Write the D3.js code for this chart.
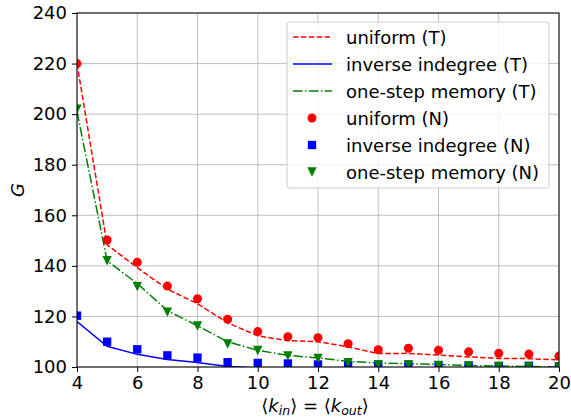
<!DOCTYPE html>
<html>
<head>
<meta charset="utf-8" />
<title>G vs k</title>
<script src="https://d3js.org/d3.v7.min.js"></script>
<style>
  body { margin: 0; background: #fff; }
  svg text { font-family: "DejaVu Sans", sans-serif; }
</style>
</head>
<body>
<svg id="chart"></svg>
<script>
// data
var kValues = [4, 5, 6, 7, 8, 9, 10, 11, 12, 13, 14, 15, 16, 17, 18, 19, 20];

var uniformT   = [220, 148.3, 139.3, 130.8, 125, 117.5, 112.3, 110.4, 110, 108, 105.3, 105.4, 104.7, 104, 103.4, 103.3, 102.8];
var inverseT   = [118, 108.2, 105, 103, 101.8, 100.2, 99.6, 99.2, 98.9, 98.7, 98.5, 98.4, 98.3, 98.2, 98.1, 98.1, 98];
var memoryT    = [201, 142, 133, 122.3, 116.3, 110, 106.6, 104.6, 103.6, 102.2, 101.6, 101.3, 101, 100.6, 100.4, 100.2, 100];

var uniformN   = [220, 150.2, 141.4, 132, 127, 118.9, 114, 112, 111.6, 109.2, 106.8, 107.4, 106.6, 106, 105.4, 105.1, 104.3];
var inverseN   = [120.3, 110, 107, 104.6, 103.7, 101.9, 101.6, 101.4, 101, 100.8, 100.6, 100.6, 100.5, 100.5, 100.4, 100.5, 100.3];
var memoryN    = [202, 142, 131.8, 121.7, 116.2, 109.1, 106.5, 104.4, 103.4, 101.7, 100.9, 100.9, 100.6, 100.4, 100.2, 100.1, 100];

var xTicks = [4, 6, 8, 10, 12, 14, 16, 18, 20];
var yTicks = [100, 120, 140, 160, 180, 200, 220, 240];

var legendLabels = ["uniform (T)", "inverse indegree (T)", "one-step memory (T)",
                    "uniform (N)", "inverse indegree (N)", "one-step memory (N)"];

var width = 571, height = 419;
var margin = {left: 77, right: 12, top: 13, bottom: 52};
var fs = "18px";

var svg = d3.select("#chart")
            .attr("width", width)
            .attr("height", height);

var x = d3.scaleLinear().domain([4, 20]).range([margin.left, width - margin.right]);
var y = d3.scaleLinear().domain([100, 240]).range([height - margin.bottom, margin.top]);

svg.append("defs").append("clipPath")
   .attr("id", "plotclip")
   .append("rect")
   .attr("x", x(4)).attr("y", y(240))
   .attr("width", x(20) - x(4)).attr("height", y(100) - y(240));

// grid
var grid = svg.append("g").attr("stroke", "#b0b0b0").attr("stroke-width", 0.8);
grid.selectAll(".gx").data(xTicks).enter().append("line")
    .attr("x1", function(d){ return x(d); }).attr("x2", function(d){ return x(d); })
    .attr("y1", y(100)).attr("y2", y(240));
grid.selectAll(".gy").data(yTicks).enter().append("line")
    .attr("y1", function(d){ return y(d); }).attr("y2", function(d){ return y(d); })
    .attr("x1", x(4)).attr("x2", x(20));

var plot = svg.append("g").attr("clip-path", "url(#plotclip)");

function toPts(vals){
  return kValues.map(function(k, i){ return [k, vals[i]]; });
}

var line = d3.line()
             .x(function(d){ return x(d[0]); })
             .y(function(d){ return y(d[1]); });

var lines = [
  {vals: uniformT, color: "#ff0000", dash: "5.5,2.4"},
  {vals: inverseT, color: "#0000ff", dash: null},
  {vals: memoryT,  color: "#008000", dash: "9.6,2.4,1.5,2.4"}
];

lines.forEach(function(s){
  plot.append("path")
      .datum(toPts(s.vals))
      .attr("fill", "none")
      .attr("stroke", s.color)
      .attr("stroke-width", 1.5)
      .attr("stroke-dasharray", s.dash)
      .attr("d", line);
});

// matplotlib style "v" marker: width equal to height
var triDown = {
  draw: function(context, size){
    var h = Math.sqrt(size) / 2;
    context.moveTo(0, h);
    context.lineTo(-h, -h);
    context.lineTo(h, -h);
    context.closePath();
  }
};

var circleSym = d3.symbol().type(d3.symbolCircle).size(64);
var squareSym = d3.symbol().type(d3.symbolSquare).size(70);
var triSym = d3.symbol().type(triDown).size(88);

var markers = [
  {vals: uniformN, color: "#ff0000", sym: circleSym},
  {vals: inverseN, color: "#0000ff", sym: squareSym},
  {vals: memoryN,  color: "#008000", sym: triSym}
];

markers.forEach(function(s){
  plot.append("g").selectAll("path")
      .data(toPts(s.vals))
      .enter().append("path")
      .attr("d", s.sym)
      .attr("fill", s.color)
      .attr("transform", function(d){
        return "translate(" + x(d[0]) + "," + y(d[1]) + ")";
      });
});

// axes
var xAxis = svg.append("g")
   .attr("transform", "translate(0," + y(100) + ")")
   .call(d3.axisBottom(x).tickValues(xTicks).tickSize(5).tickPadding(4).tickFormat(d3.format("d")));
var yAxis = svg.append("g")
   .attr("transform", "translate(" + x(4) + ",0)")
   .call(d3.axisLeft(y).tickValues(yTicks).tickSize(5).tickPadding(5).tickFormat(d3.format("d")));

[xAxis, yAxis].forEach(function(a){
  a.select(".domain").remove();
  a.selectAll("text").attr("font-size", fs).attr("fill", "#000")
   .attr("font-family", "DejaVu Sans");
  a.selectAll("line").attr("stroke", "#000").attr("stroke-width", 1);
});

// frame
svg.append("rect")
   .attr("x", x(4)).attr("y", y(240))
   .attr("width", x(20) - x(4)).attr("height", y(100) - y(240))
   .attr("fill", "none").attr("stroke", "#000").attr("stroke-width", 1);

// axis labels
svg.append("text")
   .attr("transform", "translate(24," + ((y(100) + y(240)) / 2) + ") rotate(-90)")
   .attr("text-anchor", "middle")
   .attr("font-size", fs)
   .attr("font-style", "italic")
   .text("G");

var xl = svg.append("text")
   .attr("x", (x(4) + x(20)) / 2 - 3)
   .attr("y", 412)
   .attr("text-anchor", "middle")
   .attr("font-size", fs);
xl.append("tspan").text("⟨");
xl.append("tspan").attr("font-style", "italic").text("k");
xl.append("tspan").attr("font-style", "italic").attr("font-size", "12.5px").attr("dy", 3).text("in");
xl.append("tspan").attr("dy", -3).text("⟩ = ⟨");
xl.append("tspan").attr("font-style", "italic").text("k");
xl.append("tspan").attr("font-style", "italic").attr("font-size", "12.5px").attr("dy", 3).text("out");
xl.append("tspan").attr("dy", -3).text("⟩");

// legend
var lg = svg.append("g");
lg.append("rect")
  .attr("x", 287).attr("y", 22).attr("width", 262).attr("height", 166)
  .attr("rx", 3).attr("fill", "#fff").attr("fill-opacity", 0.8)
  .attr("stroke", "#cccccc").attr("stroke-width", 1);

var rowY = d3.scaleLinear().domain([0, 5]).range([37, 172]);

legendLabels.forEach(function(lbl, i){
  var yy = rowY(i);
  if (i < 3) {
    var s = lines[i];
    lg.append("line")
      .attr("x1", 293).attr("x2", 332).attr("y1", yy).attr("y2", yy)
      .attr("stroke", s.color).attr("stroke-width", 1.5)
      .attr("stroke-dasharray", s.dash);
  } else {
    var m = markers[i - 3];
    lg.append("path")
      .attr("d", m.sym)
      .attr("fill", m.color)
      .attr("transform", "translate(312," + yy + ")");
  }
  lg.append("text")
    .attr("x", 346).attr("y", yy + 6.5)
    .attr("font-size", fs)
    .attr("fill", "#000")
    .text(lbl);
});
</script>
</body>
</html>
